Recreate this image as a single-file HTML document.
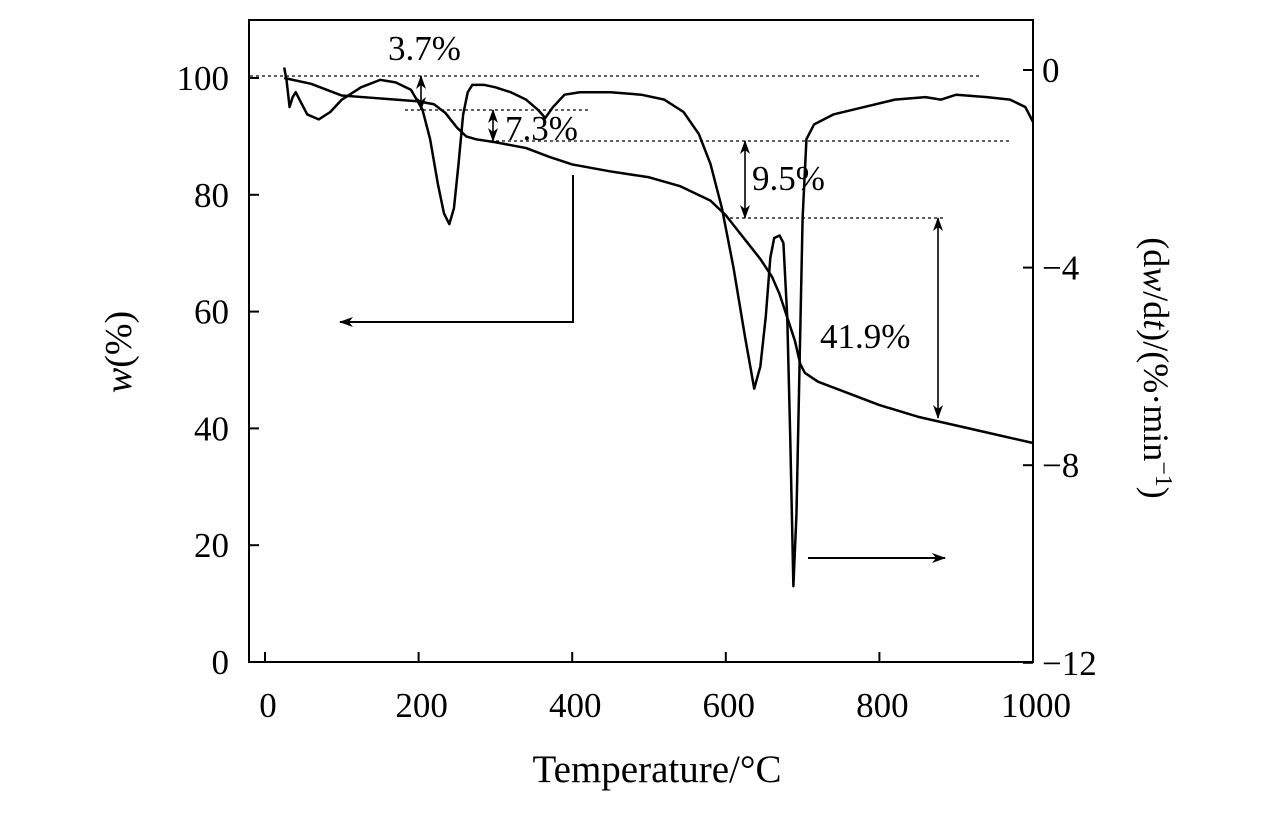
<!DOCTYPE html>
<html><head><meta charset="utf-8"><style>
html,body{margin:0;padding:0;background:#fff;width:1276px;height:819px;overflow:hidden}
svg text{font-family:"Liberation Serif",serif;fill:#000}
</style></head><body>
<svg id="chart" width="1276" height="819" viewBox="0 0 1276 819" xmlns="http://www.w3.org/2000/svg"></svg>
<script>
const xTicks=[0,200,400,600,800,1000];
const yLeftTicks=[0,20,40,60,80,100];
const yRightTicks=[0,-4,-8,-12];
const tgT=[25,60,100,150,200,220,235,250,262,275,300,340,370,400,450,500,540,580,600,615,630,645,660,670,680,690,697,703,720,750,800,850,900,950,1000];
const tgW=[100,99,97,96.5,96,95.5,94,91.5,90,89.5,89,88,86.5,85.2,84,83,81.5,79,76.5,74,71.5,69,66,63,59,55,51,49.5,48,46.5,44,42,40.5,39,37.5];
const dtgT=[25,28,32,36,40,45,55,70,85,100,125,150,170,190,205,215,225,233,240,246,252,258,264,270,285,300,320,340,355,365,375,390,410,450,490,520,545,565,580,595,610,625,637,645,652,658,663,670,675,680,684,688,692,696,700,705,715,740,780,820,860,880,900,940,970,990,1000];
const dtgV=[0.05,-0.2,-0.75,-0.55,-0.45,-0.6,-0.9,-1.0,-0.85,-0.6,-0.35,-0.2,-0.25,-0.4,-0.8,-1.4,-2.3,-2.9,-3.12,-2.8,-1.9,-0.9,-0.45,-0.3,-0.3,-0.35,-0.45,-0.6,-0.8,-0.97,-0.75,-0.5,-0.45,-0.45,-0.5,-0.6,-0.85,-1.3,-1.9,-2.8,-4.0,-5.4,-6.45,-6.0,-5.0,-3.8,-3.4,-3.35,-3.5,-5.0,-7.5,-10.45,-9.0,-6.0,-3.0,-1.4,-1.1,-0.9,-0.75,-0.6,-0.55,-0.6,-0.5,-0.55,-0.6,-0.75,-1.05];
const xS=t=>265+t*0.768;
const yL=w=>662-w*5.84;
const yR=v=>70-v*49.4;
const svg=document.getElementById('chart');
const NS='http://www.w3.org/2000/svg';
function mk(tag,attrs,parent){const e=document.createElementNS(NS,tag);for(const k in attrs)e.setAttribute(k,attrs[k]);(parent||svg).appendChild(e);return e;}
const defs=mk('defs',{});
const mkr=mk('marker',{id:'ah',markerWidth:'14',markerHeight:'10',refX:'13',refY:'5',orient:'auto-start-reverse',markerUnits:'userSpaceOnUse'},defs);
mk('path',{d:'M0,0 L14,5 L0,10 L4,5 Z',fill:'#000'},mkr);
const frame=mk('rect',{x:249,y:20,width:784,height:642,fill:'none',stroke:'#000','stroke-width':2});

xTicks.forEach(t=>{const x=xS(t);
 const l=mk('line',{x1:x,y1:662,x2:x,y2:652,stroke:'#000','stroke-width':2});
 
 const tx=mk('text',{x:x+3,y:717,'font-size':35,'text-anchor':'middle'});tx.textContent=t;
 });
yLeftTicks.forEach(w=>{const y=yL(w);
 const l=mk('line',{x1:249,y1:y,x2:259,y2:y,stroke:'#000','stroke-width':2});
 
 const tx=mk('text',{x:229,y:y+12,'font-size':35,'text-anchor':'end'});tx.textContent=w;
 });
yRightTicks.forEach(v=>{const y=yR(v);
 const l=mk('line',{x1:1033,y1:y,x2:1023,y2:y,stroke:'#000','stroke-width':2});
 
 const tx=mk('text',{x:1042,y:y+12,'font-size':35});tx.textContent=v===0?'0':'\u2212'+Math.abs(v);
 });
let d='';tgT.forEach((t,i)=>{d+=(i?'L':'M')+xS(t)+','+yL(tgW[i]);});
const tg=mk('path',{d:d,fill:'none',stroke:'#000','stroke-width':2.5,'stroke-linejoin':'round'});

d='';dtgT.forEach((t,i)=>{d+=(i?'L':'M')+xS(t)+','+yR(dtgV[i]);});
const dtg=mk('path',{d:d,fill:'none',stroke:'#000','stroke-width':2.5,'stroke-linejoin':'round'});

[[250,980,76],[405,590,110],[490,1010,141],[730,945,218]].forEach(a=>{
 const l=mk('line',{x1:a[0],y1:a[2],x2:a[1],y2:a[2],stroke:'#000','stroke-width':1.3,'stroke-dasharray':'3,3'});
 });
[[421,76,110],[493,110,141],[745,141,218],[938,218,418]].forEach(a=>{
 const l=mk('line',{x1:a[0],y1:a[1],x2:a[0],y2:a[2],stroke:'#000','stroke-width':1.6,'marker-start':'url(#ah)','marker-end':'url(#ah)'});
 });
[['3.7%',388,60],['7.3%',505,140],['9.5%',752,190],['41.9%',820,348]].forEach(a=>{
 const tx=mk('text',{x:a[1],y:a[2],'font-size':35});tx.textContent=a[0];
 });
const la=mk('path',{d:'M573,175 L573,322 L340,322',fill:'none',stroke:'#000','stroke-width':2,'marker-end':'url(#ah)'});

const ra=mk('line',{x1:808,y1:558,x2:945,y2:558,stroke:'#000','stroke-width':2,'marker-end':'url(#ah)'});

const xt=mk('text',{x:657,y:782,'font-size':39,'text-anchor':'middle'});xt.textContent='Temperature/°C';

const yt=mk('text',{transform:'translate(131,352) rotate(-90)','font-size':38,'text-anchor':'middle'});
yt.innerHTML='<tspan font-style="italic">w</tspan>(%)';

const yt2=mk('text',{transform:'translate(1144,368) rotate(90)','font-size':36,'text-anchor':'middle'});
yt2.innerHTML='(d<tspan font-style="italic">w</tspan>/d<tspan font-style="italic">t</tspan>)/(%·min<tspan dy="-12" font-size="24">−1</tspan><tspan dy="12">)</tspan>';

</script>
</body></html>
